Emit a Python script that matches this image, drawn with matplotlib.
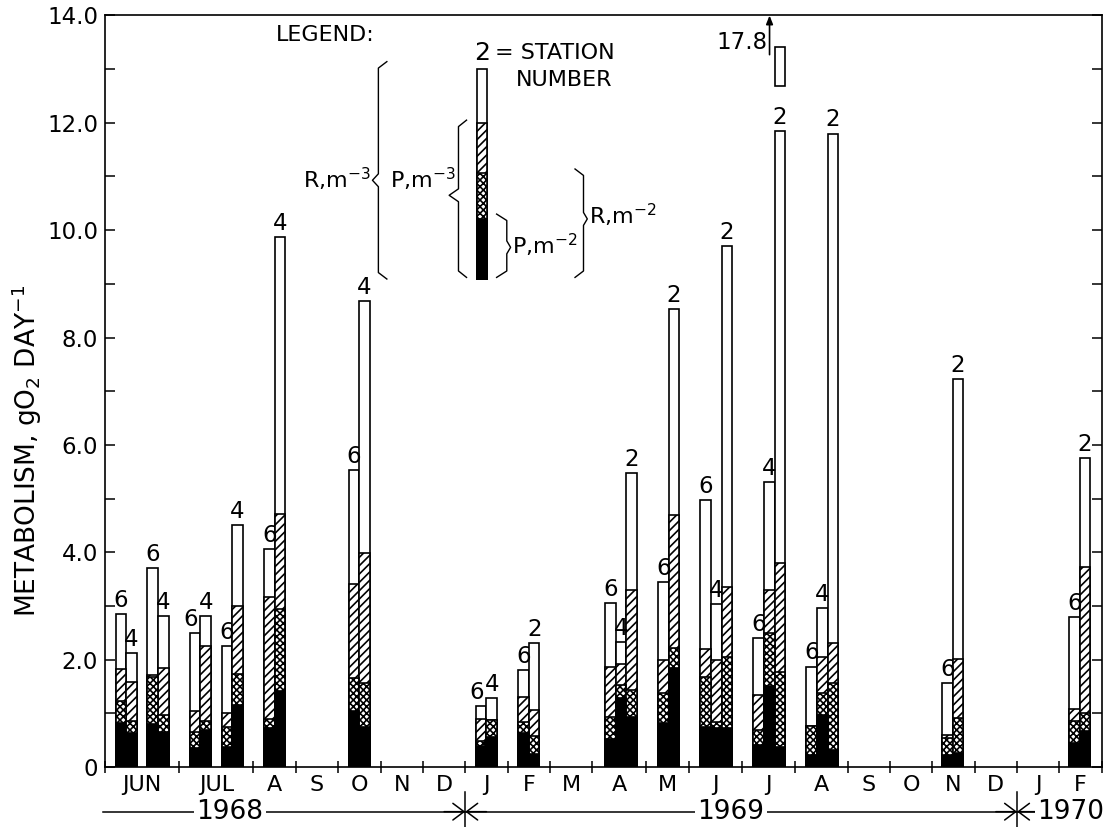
import matplotlib
matplotlib.use("Agg")
import matplotlib.pyplot as plt
import matplotlib.transforms as mtransforms
import numpy as np

plt.rcParams['font.family'] = ['DejaVu Sans']
plt.rcParams['hatch.linewidth'] = 1.2

# --- data ---
month_labels = ["JUN", "JUL", "A", "S", "O", "N", "D", "J", "F", "M",
                "A", "M", "J", "J", "A", "S", "O", "N", "D", "J", "F"]
month_widths = [1.75, 1.75, 1, 1, 1, 1, 1, 1, 1, 1,
                1.27, 1, 1.25, 1.25, 1.25, 1, 1, 1, 1, 1, 1]
years = ["1968", "1969", "1970"]

# sampling dates (start of each group of bars, in month units) and stations
group_x = [0.25, 1.0, 2.0, 2.75, 3.75, 5.75, 8.75, 9.75, 11.8, 13.05,
           14.05, 15.3, 16.55, 19.75, 22.75]
group_stations = [[6, 4], [6, 4], [6, 4], [6, 4], [6, 4], [6, 4], [6, 4], [6, 2],
                  [6, 4, 2], [6, 2], [6, 4, 2], [6, 4, 2], [6, 4, 2], [6, 2], [6, 2]]

# cumulative levels, g O2 per day
p_area = [0.82, 0.63, 0.80, 0.66, 0.35, 0.69, 0.37, 1.16, 0.72, 1.41, 1.05, 0.75,
          0.39, 0.55, 0.64, 0.24, 0.53, 1.28, 0.93, 0.81, 1.84, 0.75, 0.72, 0.72,
          0.40, 1.51, 0.37, 0.22, 0.96, 0.31, 0.23, 0.26, 0.45, 0.67]
r_area = [1.22, 0.85, 1.68, 0.97, 0.65, 0.85, 0.74, 1.73, 0.89, 2.94, 1.66, 1.57,
          0.49, 0.88, 0.84, 0.58, 0.93, 1.52, 1.43, 1.37, 2.21, 1.68, 0.84, 2.05,
          0.68, 2.49, 1.77, 0.77, 1.37, 1.56, 0.54, 0.91, 0.86, 1.00]
p_vol = [1.83, 1.59, 1.72, 1.84, 1.05, 2.26, 1.00, 2.99, 3.17, 4.72, 3.40, 3.99,
         0.89, 0.88, 1.31, 1.06, 1.87, 1.92, 3.30, 1.99, 4.70, 2.20, 1.99, 3.36,
         1.34, 3.29, 3.80, 0.77, 2.05, 2.31, 0.59, 2.02, 1.08, 3.72]
r_vol = [2.85, 2.13, 3.70, 2.81, 2.50, 2.82, 2.26, 4.51, 4.06, 9.87, 5.53, 8.68,
         1.14, 1.29, 1.80, 2.31, 3.05, 2.33, 5.48, 3.45, 8.53, 4.98, 3.04, 9.70,
         2.41, 5.31, 17.8, 1.87, 2.96, 11.8, 1.57, 7.22, 2.80, 5.76]

# --- layout / style constants ---
bar_w = 0.25
clip_top = 11.85          # where off-scale bars are broken
stub = (12.69, 13.42)     # piece drawn above the break
fs_num = 16.5
fs_txt = 16
narrow = ['Liberation Sans Narrow', 'DejaVu Sans']
hatch_diag = '////'
hatch_cross = 'xxxxx'

fig = plt.figure(figsize=(11.08, 8.27), dpi=100)
ax = fig.add_axes([0.0948, 0.0726, 0.8996, 0.9087])

edges = np.concatenate([[0], np.cumsum(month_widths)])
centers = (edges[:-1] + edges[1:]) / 2

# bar positions from groups
bar_left = []
stations = []
next_in_group = []
for gx, sts in zip(group_x, group_stations):
    for k, s in enumerate(sts):
        bar_left.append(gx + k * bar_w)
        stations.append(s)
        next_in_group.append(k < len(sts) - 1)
bar_left = np.array(bar_left)
shown_top = np.minimum(r_vol, clip_top)

kw = dict(width=bar_w, align='edge', edgecolor='black', linewidth=1.2)
ax.bar(bar_left, shown_top, color='white', **kw)
ax.bar(bar_left, p_vol, color='white', hatch=hatch_diag, **kw)
ax.bar(bar_left, r_area, color='white', hatch=hatch_cross, **kw)
ax.bar(bar_left, p_area, color='black', **kw)

for i, (x, top, st) in enumerate(zip(bar_left, shown_top, stations)):
    dx = 0
    # nudge left when the neighbouring label sits at nearly the same height
    if next_in_group[i] and -0.1 < shown_top[i + 1] - top < 0.5:
        dx = -3.5
    ax.annotate(str(st), (x + bar_w / 2, top), xytext=(dx, 1.5), textcoords='offset points',
                ha='center', va='bottom', fontsize=fs_num, family=narrow)

# off-scale bar: stub above the break and the true value
for x, val in zip(bar_left, r_vol):
    if val > clip_top:
        ax.bar([x], [stub[1] - stub[0]], bottom=stub[0], color='white', **kw)
        ax.annotate('', xy=(x - 0.12, 14.0), xytext=(x - 0.12, stub[1] - 0.15),
                    arrowprops=dict(arrowstyle='-|>,head_length=0.5,head_width=0.2',
                                    color='black', lw=1.2, shrinkA=0, shrinkB=0))
        ax.text(x - 0.16, 13.5, f"{val:.1f}", ha='right', va='center', fontsize=fs_num)

# --- legend drawn inside the plot ---
leg_x = 8.77
leg_levels = [9.09, 10.21, 11.07, 12.0, 13.01]
ax.bar([leg_x], [leg_levels[4] - leg_levels[0]], bottom=leg_levels[0], color='white', **kw)
ax.bar([leg_x], [leg_levels[3] - leg_levels[0]], bottom=leg_levels[0], color='white', hatch=hatch_diag, **kw)
ax.bar([leg_x], [leg_levels[2] - leg_levels[0]], bottom=leg_levels[0], color='white', hatch=hatch_cross, **kw)
ax.bar([leg_x], [leg_levels[1] - leg_levels[0]], bottom=leg_levels[0], color='black', **kw)


def brace(x_line, x_hook, x_tip, y0, y1, y_tip, d=0.12):
    xs = [x_hook, x_line, x_line, x_tip, x_line, x_line, x_hook]
    ys = [y1, y1 - d, y_tip + d, y_tip, y_tip - d, y0 + d, y0]
    ax.plot(xs, ys, color='black', lw=1.0)


brace(6.45, 6.65, 6.31, 9.09, 13.14, 10.93)
brace(8.34, 8.53, 8.12, 9.12, 12.05, 10.65)
brace(9.48, 9.24, 9.57, 9.12, 10.30, 9.68)
brace(11.29, 11.09, 11.38, 9.12, 11.14, 10.21)

ax.text(6.28, 10.95, r"R,m$^{-3}$", ha='right', va='center', fontsize=fs_txt)
ax.text(6.72, 10.95, r"P,m$^{-3}$", ha='left', va='center', fontsize=fs_txt)
ax.text(9.6, 9.72, r"P,m$^{-2}$", ha='left', va='center', fontsize=fs_txt)
ax.text(11.42, 10.28, r"R,m$^{-2}$", ha='left', va='center', fontsize=fs_txt)
ax.text(4.03, 13.63, "LEGEND:", ha='left', va='center', fontsize=fs_txt)
ax.text(leg_x + bar_w / 2, 13.08, "2", ha='center', va='bottom', fontsize=18, family=narrow)
ax.text(9.2, 13.3, "= STATION", ha='left', va='center', fontsize=fs_txt)
ax.text(9.7, 12.79, "NUMBER", ha='left', va='center', fontsize=fs_txt)

# --- axes ---
ax.set_xlim(0, edges[-1])
ax.set_ylim(0, 14)
ax.set_xticks(edges)
ax.set_xticklabels([])
ax.set_xticks(centers, month_labels, minor=True)
ax.tick_params(axis='x', which='major', direction='inout', length=9, width=1.1)
ax.tick_params(axis='x', which='minor', length=0, pad=6, labelsize=fs_txt)

ax.set_yticks(np.arange(0, 15, 2))
ax.set_yticklabels(["0"] + [f"{v:.1f}" for v in np.arange(2, 15, 2)])
ax.set_yticks(np.arange(1, 14, 2), minor=True)
ax.tick_params(axis='y', which='both', direction='in', length=7, width=1.1,
               right=True, labelsize=fs_num, pad=5)
for sp in ax.spines.values():
    sp.set_linewidth(1.2)

ax.set_ylabel(r"METABOLISM, gO$_2$ DAY$^{-1}$", fontsize=19)
ax.yaxis.set_label_coords(-0.061, 0.42)

# --- year line under the months ---
trans = mtransforms.blended_transform_factory(ax.transData, ax.transAxes)
y_year = -0.0595
year_breaks = [edges[7], edges[19]]
year_pos = [2.95, 14.77, 22.0]

ax.plot([-0.05, edges[-1]], [y_year, y_year], transform=trans, clip_on=False, color='black', lw=1.1)
for xb in year_breaks:
    ax.plot([xb, xb], [-0.033, -0.09], transform=trans, clip_on=False, color='black', lw=1.1)
    for side in (-1, 1):
        ax.annotate('', xy=(xb, y_year), xytext=(xb + side * 0.5, y_year),
                    xycoords=trans, textcoords=trans,
                    arrowprops=dict(arrowstyle='->,head_length=0.4,head_width=0.3',
                                    color='black', lw=1.1, shrinkA=0, shrinkB=0,
                                    mutation_scale=20))
for i, (yr, xp) in enumerate(zip(years, year_pos)):
    ha = 'left' if i == len(years) - 1 else 'center'
    ax.text(xp, y_year, yr, transform=trans, ha=ha, va='center', fontsize=19,
            clip_on=False, bbox=dict(facecolor='white', edgecolor='none', pad=1.5))

fig.savefig("out.png", dpi=100)
